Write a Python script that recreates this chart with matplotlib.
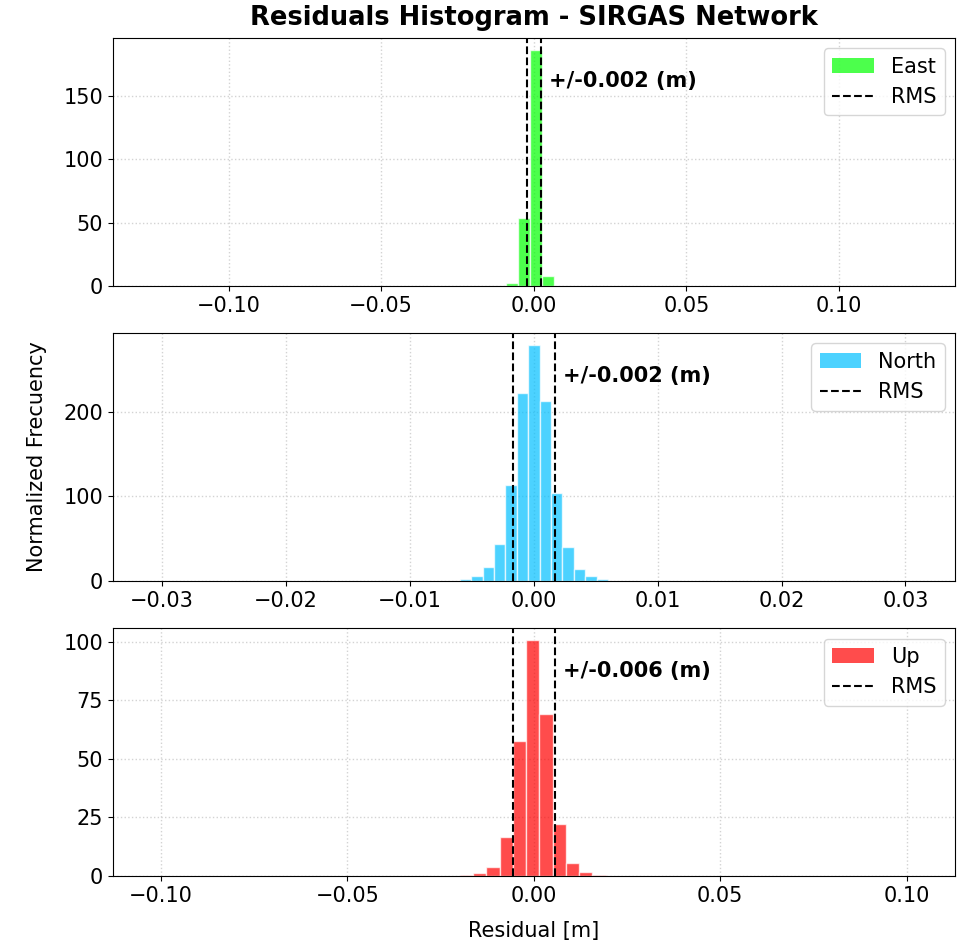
import numpy as np
import matplotlib
matplotlib.use("Agg")
import matplotlib.pyplot as plt
from matplotlib.patches import Patch
from matplotlib.lines import Line2D

# bin centres (m) and normalized frequencies
east_centers = [-0.0072, -0.0033, 0.0007, 0.0047]
east_heights = [2.0, 54.0, 186.5, 8.2]
east_width = 0.00395
east_rms = 0.0024
east_yticks = [0, 50, 100, 150]

north_centers = [k * 0.00092 for k in range(-7, 8)]
north_heights = [0.5, 2.0, 6.4, 16.0, 44.0, 113.8, 222.4, 279.4, 213.5, 104.6, 40.3, 14.4, 5.6, 2.4, 0.5]
north_width = 0.00092
north_rms = 0.0017
north_yticks = [0, 100, 200]

up_centers = [-0.0003 + k * 0.00356 for k in range(-5, 6)]
up_heights = [0.3, 1.2, 4.0, 16.7, 57.5, 100.7, 69.0, 22.3, 5.5, 1.6, 0.3]
up_width = 0.00356
up_rms = 0.0056
up_yticks = [0, 25, 50, 75, 100]

components = [
    ("East", east_centers, east_heights, east_width, east_rms, "lime", 0.138, east_yticks),
    ("North", north_centers, north_heights, north_width, north_rms, "deepskyblue", 0.034, north_yticks),
    ("Up", up_centers, up_heights, up_width, up_rms, "red", 0.113, up_yticks),
]

plt.rcParams["font.size"] = 15

fig, axes = plt.subplots(3, 1, figsize=(9.59, 9.42), dpi=100)
fig.subplots_adjust(left=0.1175, right=0.9958, top=0.9597, bottom=0.07, hspace=0.19)

for ax, (name, centers, heights, width, rms, color, lim, yt) in zip(axes, components):
    ax.bar(centers, heights, width=width, color=color, alpha=0.7,
           edgecolor="white", linewidth=1, zorder=2)
    ax.axvline(-rms, color="black", linestyle="--", linewidth=1.5, zorder=3)
    ax.axvline(rms, color="black", linestyle="--", linewidth=1.5, zorder=3)
    ax.annotate(f"+/-{round(rms, 3):.3f} (m)", xy=(rms, 0.825),
                xycoords=("data", "axes fraction"), xytext=(6, 0),
                textcoords="offset points", ha="left", va="center",
                fontweight="bold", fontsize=15)
    ax.set_xlim(-lim, lim)
    ax.set_yticks(yt)
    ax.grid(True, linestyle=":", color="lightgray", linewidth=1, zorder=0)
    ax.set_axisbelow(True)
    handles = [Patch(facecolor=color, alpha=0.7, label=name),
               Line2D([], [], color="black", linestyle="--", linewidth=1.5, label="RMS")]
    ax.legend(handles=handles, loc="upper right", fontsize=15)

axes[0].set_title("Residuals Histogram - SIRGAS Network", fontweight="bold", fontsize=18.5, pad=9)
axes[1].set_ylabel("Normalized Frecuency", labelpad=12)
axes[2].set_xlabel("Residual [m]", labelpad=11)

fig.savefig("out.png", dpi=100)
